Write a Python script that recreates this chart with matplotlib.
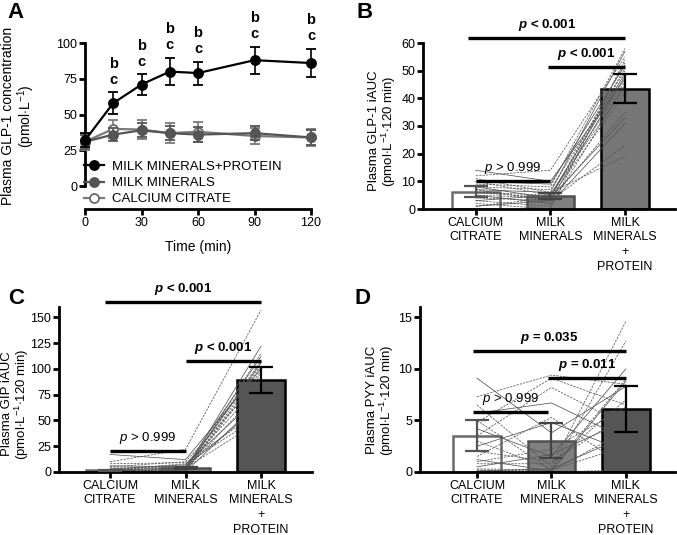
import matplotlib
matplotlib.use("Agg")
import matplotlib.pyplot as plt
from matplotlib.lines import Line2D
import numpy as np

plt.rcParams['font.family'] = ['Liberation Sans', 'DejaVu Sans']
plt.rcParams['mathtext.fontset'] = 'custom'
plt.rcParams['mathtext.rm'] = 'Liberation Sans'
plt.rcParams['mathtext.it'] = 'Liberation Sans:italic'
plt.rcParams['mathtext.bf'] = 'Liberation Sans:bold'
plt.rcParams['mathtext.bfit'] = 'Liberation Sans:italic:bold'

# ---- panel A: time course ----
time_min = [0, 15, 30, 45, 60, 90, 120]
mmp_glp1 = [32, 58, 71, 80, 79, 88, 86]
mmp_glp1_err = [5, 7.5, 7, 9.5, 8, 9.5, 9.8]
mm_glp1 = [31, 36, 39, 37, 36, 37, 34]
mm_glp1_err = [5, 4.5, 5, 5, 5, 5, 5]
cc_glp1 = [31, 40, 39.5, 37, 38, 35, 34]
cc_glp1_err = [5.5, 6.5, 6.5, 7, 7, 5.8, 6]
letter_times = [15, 30, 45, 60, 90, 120]

# ---- bar panels ----
groups = ['CALCIUM\nCITRATE', 'MILK\nMINERALS', 'MILK\nMINERALS\n+\nPROTEIN']

b_means = [6.3, 4.7, 43.5]
b_err = [2.0, 1.0, 5.3]
b_cc = [14, 12, 11, 10, 10, 9, 8, 8, 7, 7, 6, 6, 5, 5, 4, 3, 3, 2, 1, 1]
b_mm = [10, 14, 6, 9, 5, 8, 4, 7, 3, 6, 5, 4, 2, 4, 3, 5, 1, 0, 3, 4]
b_mmp = [47, 55, 19, 52, 44, 58, 33, 50, 23, 57, 46, 42, 31, 53, 35, 49, 45, 54, 48, 51]

c_means = [1.5, 4.0, 89]
c_err = [0.8, 1.2, 12.5]
c_cc = [17, 10, 8, 6, 5, 4, 3, 3, 2, 2, 2, 1, 1, 1, 0, 0, 0, 0, 0, 0]
c_mm = [12, 22, 9, 5, 10, 4, 7, 3, 8, 2, 6, 1, 5, 0, 4, 3, 2, 1, 0, 1]
c_mmp = [100, 157, 60, 112, 90, 104, 75, 108, 55, 122, 85, 98, 65, 115, 50, 106, 80, 102, 70, 95]

d_means = [3.5, 3.05, 6.1]
d_err = [1.5, 1.7, 2.25]
d_cc = [9.1, 7.3, 6.5, 5.7, 5.0, 4.8, 4.2, 3.5, 3.0, 2.5, 2.0, 1.5, 1.2, 1.0, 0.8, 0.5, 0.3, 0.2, 0.1, 0.1]
d_mm = [3.8, 9.4, 0.5, 6.7, 0.2, 9.1, 1.5, 8.2, 0.3, 4.8, 1.0, 5.3, 0.1, 2.2, 0.8, 1.7, 0.2, 0.1, 0.3, 0.0]
d_mmp = [8.3, 8.5, 14.6, 3.2, 12.7, 6.5, 10.0, 4.5, 9.0, 2.0, 5.5, 0.5, 8.8, 6.3, 7.0, 5.0, 2.5, 4.0, 3.5, 0.2]

# significance brackets: (x0, x1, y, label, weight)
b_sig = [(-0.1, 2, 61.8, r'$\mathbfit{p}$ < 0.001', 'bold'),
         (0.97, 2, 51.3, r'$\mathbfit{p}$ < 0.001', 'bold'),
         (0, 1, 10.1, r'$\mathit{p}$ > 0.999', 'normal')]
c_sig = [(-0.07, 2, 164.5, r'$\mathbfit{p}$ < 0.001', 'bold'),
         (1, 2, 108, r'$\mathbfit{p}$ < 0.001', 'bold'),
         (0, 1, 20.3, r'$\mathit{p}$ > 0.999', 'normal')]
d_sig = [(-0.05, 2, 11.7, r'$\mathbfit{p}$ = 0.035', 'bold'),
         (0.95, 2, 9.1, r'$\mathbfit{p}$ = 0.011', 'bold'),
         (-0.05, 0.95, 5.8, r'$\mathit{p}$ > 0.999', 'normal')]

W, H = 677, 535
fig = plt.figure(figsize=(W / 100, H / 100), dpi=100)


def px_axes(left, top, right, bottom):
    return fig.add_axes([left / W, 1 - bottom / H, (right - left) / W, (bottom - top) / H])


LW = 2.0
TICK = dict(direction='out', length=4, width=LW, labelsize=9, pad=1.5)


def style_axes(ax):
    for s in ['top', 'right']:
        ax.spines[s].set_visible(False)
    for s in ['left', 'bottom']:
        ax.spines[s].set_linewidth(LW)
    ax.tick_params(**TICK)


def ylabel(px, py, txt, size):
    fig.text(px / W, 1 - py / H, txt, rotation=90, ha='center', va='center', fontsize=size,
             multialignment='center', linespacing=1.05)


# ---------------- A ----------------
axA = px_axes(85, 43, 311, 209)
style_axes(axA)
axA.set_xlim(0, 120)
axA.set_ylim(-16, 100)
axA.spines['left'].set_bounds(0, 100)
axA.set_yticks([0, 25, 50, 75, 100])
axA.set_xticks([0, 30, 60, 90, 120])

series = [
    (cc_glp1, cc_glp1_err, '#7a7a7a', 'white', '#6a6a6a', 'CALCIUM CITRATE'),
    (mm_glp1, mm_glp1_err, '#555555', '#555555', '#555555', 'MILK MINERALS'),
    (mmp_glp1, mmp_glp1_err, 'black', 'black', 'black', 'MILK MINERALS+PROTEIN'),
]
handles = []
for z, (vals, errs, col, mfc, mec, lab) in enumerate(series):
    axA.errorbar(time_min, vals, yerr=errs, color=col, lw=1.6, marker='o', ms=6.5, mfc=mfc,
                 mec=mec, mew=1.3, capsize=3.5, elinewidth=1.2, capthick=1.2, clip_on=False,
                 zorder=3 + z)
    handles.append(Line2D([], [], color=col, lw=1.6, marker='o', ms=6.5, mfc=mfc, mec=mec,
                          mew=1.3, label=lab))

for t in letter_times:
    i = time_min.index(t)
    top = mmp_glp1[i] + mmp_glp1_err[i]
    axA.annotate('c', (t, top), xytext=(0, 4), textcoords='offset points', ha='center',
                 va='bottom', fontsize=10.5, fontweight='bold', annotation_clip=False)
    axA.annotate('b', (t, top), xytext=(0, 15.5), textcoords='offset points', ha='center',
                 va='bottom', fontsize=10.5, fontweight='bold', annotation_clip=False)

axA.legend(handles=handles[::-1], loc='upper left', bbox_to_anchor=(-0.005, 0.29),
           frameon=False, fontsize=9.5, handlelength=1.5, handletextpad=0.6,
           labelspacing=0.3, borderpad=0, borderaxespad=0)
axA.set_xlabel('Time (min)', fontsize=10, labelpad=8)
ylabel(19, 116, 'Plasma GLP-1 concentration\n(pmol$\\cdot$L$^{-1}$)', 10)


# ---------------- bar panels ----------------
def bar_panel(ax, means, errs, cc, mm, mmp, sig, ymax, yticks, mmp_fill, xlim):
    style_axes(ax)
    x = np.arange(3)
    fills = ['white', '#808080', mmp_fill]
    edges = ['#6a6a6a', '#4f4f4f', 'black']
    errc = ['#555555', '#444444', 'black']
    for i in range(3):
        ax.bar(x[i], means[i], width=0.64, color=fills[i], edgecolor=edges[i], linewidth=1.8,
               zorder=1)
    for j in range(len(cc)):
        ls = (0, (3, 1.5)) if j % 3 else '-'
        ax.plot(x, [cc[j], mm[j], mmp[j]], color='#555555', lw=0.55, ls=ls, zorder=2,
                clip_on=False)
    for i in range(3):
        ax.errorbar(x[i], means[i], yerr=errs[i], color=errc[i], capsize=8.5, elinewidth=1.6,
                    capthick=1.6, zorder=3, fmt='none')
    for x0, x1, y, txt, wt in sig:
        ax.plot([x0, x1], [y, y], color='black', lw=2.4, solid_capstyle='butt', clip_on=False,
                zorder=4)
        ax.annotate(txt, ((x0 + x1) / 2, y), xytext=(0, 3.5), textcoords='offset points',
                    ha='center', va='bottom', fontsize=9.5, fontweight=wt,
                    annotation_clip=False, zorder=5)
    ax.set_xlim(*xlim)
    ax.set_ylim(0, ymax)
    ax.set_yticks(yticks)
    ax.set_xticks(x)
    ax.set_xticklabels(groups, fontsize=9, linespacing=1.3)


axB = px_axes(423, 43, 675, 209)
bar_panel(axB, b_means, b_err, b_cc, b_mm, b_mmp, b_sig, 60, [0, 10, 20, 30, 40, 50, 60],
          '#777777', (-0.707, 2.67))
ylabel(383, 131, 'Plasma GLP-1 iAUC\n(pmol$\\cdot$L$^{-1}$$\\cdot$120 min)', 9.5)

axC = px_axes(59, 307, 312, 472)
bar_panel(axC, c_means, c_err, c_cc, c_mm, c_mmp, c_sig, 160, [0, 25, 50, 75, 100, 125, 150],
          '#555555', (-0.675, 2.675))
ylabel(16, 404, 'Plasma GIP iAUC\n(pmol$\\cdot$L$^{-1}$$\\cdot$120 min)', 9.5)

axD = px_axes(420, 307, 675, 472)
bar_panel(axD, d_means, d_err, d_cc, d_mm, d_mmp, d_sig, 16, [0, 5, 10, 15],
          '#555555', (-0.765, 2.66))
ylabel(381, 400, 'Plasma PYY iAUC\n(pmol$\\cdot$L$^{-1}$$\\cdot$120 min)', 9.5)

# panel letters
for lbl, (px, py) in zip('ABCD', [(15, 13), (365, 13), (16, 298), (362, 299)]):
    fig.text(px / W, 1 - py / H, lbl, fontsize=16, fontweight='bold', ha='center', va='center')

fig.savefig('out.png', dpi=100, facecolor='white')
